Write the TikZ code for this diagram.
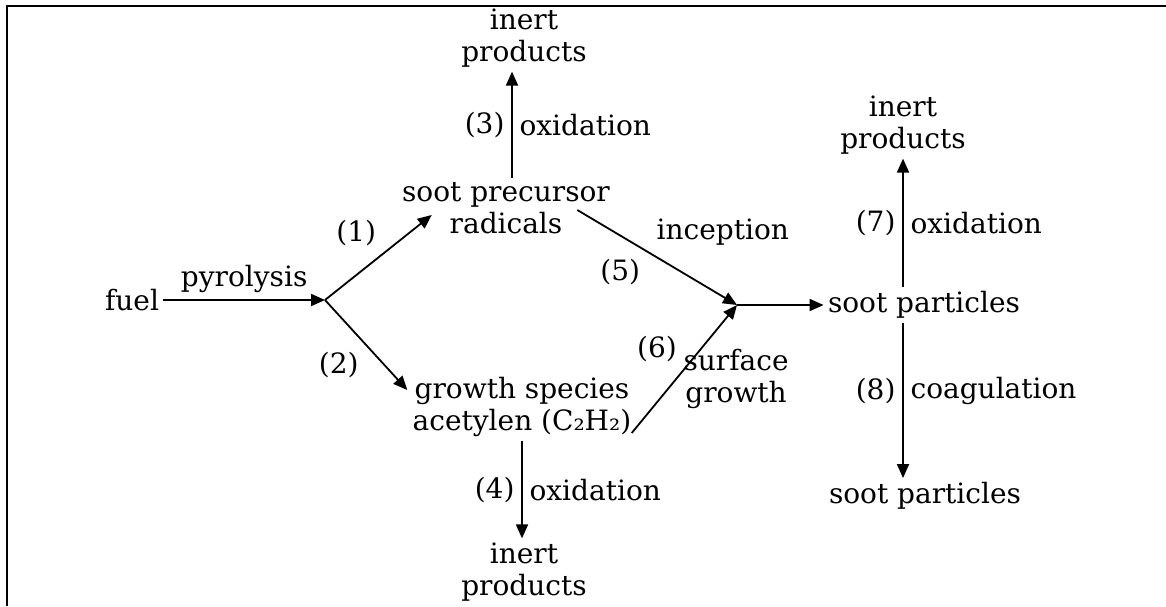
\documentclass[tikz,border=0pt]{standalone}
\usepackage{fontspec}
\setmainfont{DejaVu Serif}
\usetikzlibrary{arrows.meta}
\begin{document}
\begin{tikzpicture}[
    x=0.5pt, y=-0.5pt,
    font=\fontsize{14}{16}\selectfont,
    species/.style={align=center, inner sep=2pt},
    flow/.style={-{Triangle[length=7pt,width=6pt]}, line width=0.9pt},
    frame/.style={line width=1pt}
]
    \useasboundingbox (0,0) rectangle (1166,606);
    % Frame
    \draw[frame] (7,606) -- (7,6) -- (1166,6);

    % Species
    \node[species] (fuel) at (132,300) {fuel};
    \node[species] (precursor) at (506,208) {soot precursor\\radicals};
    \node[species] (growth) at (522,407) {growth species\\acetylen (C₂H₂)};
    \node[species] (sootA) at (924,305) {soot particles};
    \node[species] (sootB) at (925,496) {soot particles};

    % Inert products
    \node[species] (inertA) at (524,38) {inert\\products};
    \node[species] (inertB) at (524,572) {inert\\products};
    \node[species] (inertC) at (903,125) {inert\\products};

    % Junctions
    \coordinate (j1) at (325,300);
    \coordinate (j2) at (737,305);

    % Connections
    \draw[flow] (fuel) -- node[above] {pyrolysis} (j1);
    \draw[flow] (j1) -- node[pos=0.55, above left] {(1)} ([shift={(34,7)}]precursor.west);
    \draw[flow] (j1) -- node[below left] {(2)} ([shift={(-1,-17)}]growth.west);
    \draw[flow] ([xshift=3pt]precursor.north) -- node[left] {(3)} node[right] {oxidation} ([xshift=-6pt]inertA.south);
    \draw[flow] (growth.south) -- node[left] {(4)} node[right] {oxidation} (growth.south |- inertB.north);
    \draw[flow] ([shift={(-37,2)}]precursor.east) -- node[pos=0.44, below left] {(5)} node[pos=0.45, above right] {inception} (j2);
    \draw[flow] ([shift={(-4,26)}]growth.east) -- node[above left] {(6)} node[pos=0.42, right, align=center] {surface\\growth} (j2);
    \draw[flow] (j2) -- (sootA);
    \draw[flow] (inertC.south |- sootA.north) -- node[left] {(7)} node[right] {oxidation} (inertC.south);
    \draw[flow] (sootA.south -| inertC.south) -- node[pos=0.44, left] {(8)} node[pos=0.44, right] {coagulation} (sootB.north -| inertC.south);
\end{tikzpicture}
\end{document}
